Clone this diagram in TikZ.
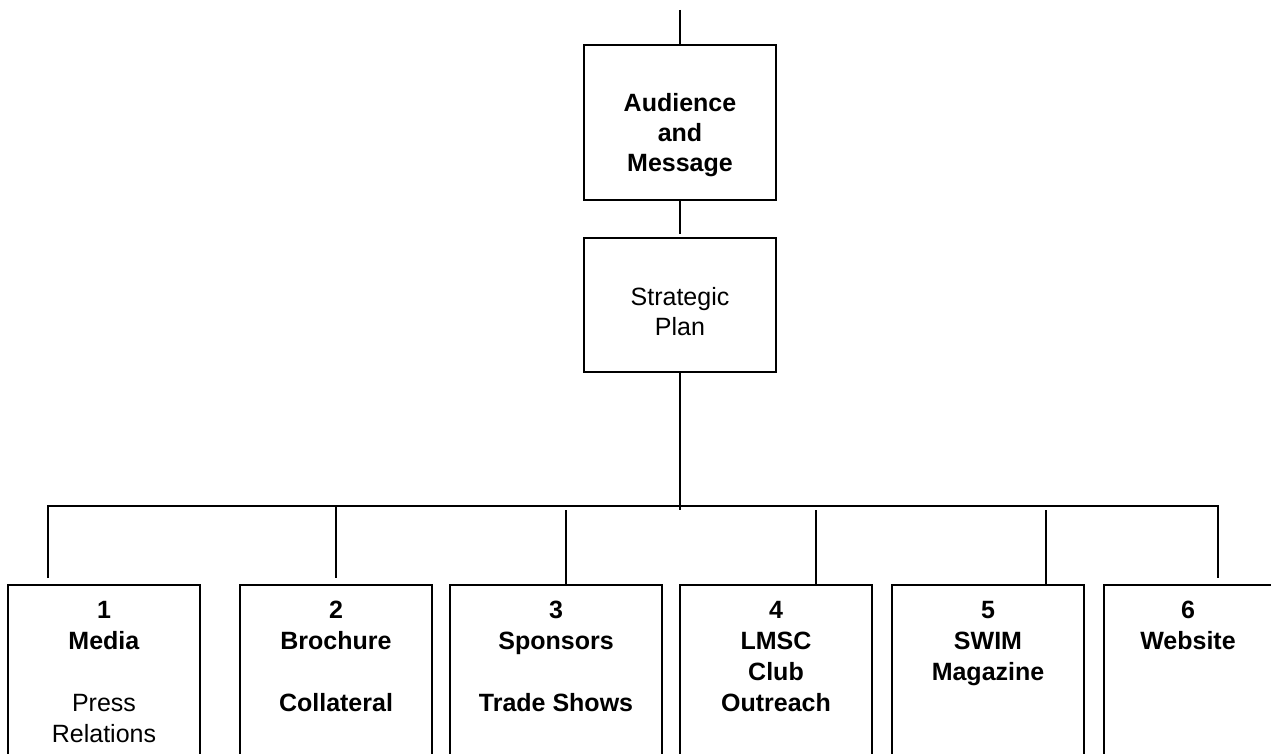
\documentclass[tikz,border=0pt]{standalone}
\usepackage{fontspec}
\setmainfont{Liberation Sans}

\begin{document}
\begin{tikzpicture}[
        x=1pt, y=-1pt,
        box/.style={draw, line width=2pt, inner sep=0pt},
        topbox/.style={box, minimum width=192pt},
        planbox/.style={box, anchor=north, minimum height=230pt},
        boxtext/.style={align=center, inner sep=0pt, anchor=base, font=\fontsize{25}{31}\selectfont},
        link/.style={draw, line width=2pt}
    ]
    \clip (0,0) rectangle (1271,754);

    % ==========================================
    % 1. Audience and Strategic Plan (top)
    % ==========================================
    \coordinate (top) at (680,10);
    \node[topbox, minimum height=155pt] (aud) at (680,122.5) {};
    % base = baseline of the last line
    \node[boxtext, font=\fontsize{25}{30}\selectfont\bfseries] (audtxt) at (680,172) {Audience\\and\\Message};

    \node[topbox, minimum height=134pt] (strat) at (680,305) {};
    \node[boxtext, font=\fontsize{25}{30}\selectfont] (strattxt) at (680,335) {Strategic\\Plan};

    \coordinate (hub) at (680,510);

    \draw[link] (top) -- (aud.north);
    \draw[link, shorten >=3pt] (aud.south) -- (strat.north);
    \draw[link] (strat.south) -- (hub);

    % ==========================================
    % 2. Six plans (bottom row)
    % ==========================================
    \node[planbox, minimum width=192pt] (m1) at (104,584) {};
    \node[planbox, minimum width=192pt] (m2) at (336,584) {};
    \node[planbox, minimum width=212pt] (m3) at (556,584) {};
    \node[planbox, minimum width=192pt] (m4) at (776,584) {};
    \node[planbox, minimum width=192pt] (m5) at (988,584) {};
    \node[planbox, minimum width=168pt] (m6) at (1188,584) {};

    \node[boxtext] (t1) at (104,742) {\textbf{1}\\\textbf{Media}\\~\\Press\\Relations};
    \node[boxtext] (t2) at (336,711) {\textbf{2}\\\textbf{Brochure}\\~\\\textbf{Collateral}};
    \node[boxtext] (t3) at (556,711) {\textbf{3}\\\textbf{Sponsors}\\~\\\textbf{Trade Shows}};
    \node[boxtext] (t4) at (776,711) {\textbf{4}\\\textbf{LMSC}\\\textbf{Club}\\\textbf{Outreach}};
    \node[boxtext] (t5) at (988,680) {\textbf{5}\\\textbf{SWIM}\\\textbf{Magazine}};
    \node[boxtext] (t6) at (1188,649) {\textbf{6}\\\textbf{Website}};

    % drop points on the bus
    \foreach \i/\x/\y in {1/48/506, 2/336/506, 3/566/510, 4/816/510, 5/1046/510, 6/1218/506}
        \coordinate (d\i) at (\x,\y);

    % bus with the two outer drops
    \draw[link, shorten <=6pt, shorten >=6pt] (d1 |- m1.north) -- (d1) -- (d6) -- (d6 |- m6.north);
    \draw[link, shorten >=6pt] (d2) -- (d2 |- m2.north);
    \foreach \i in {3,4,5}
        \draw[link] (d\i) -- (d\i |- m\i.north);

\end{tikzpicture}
\end{document}
